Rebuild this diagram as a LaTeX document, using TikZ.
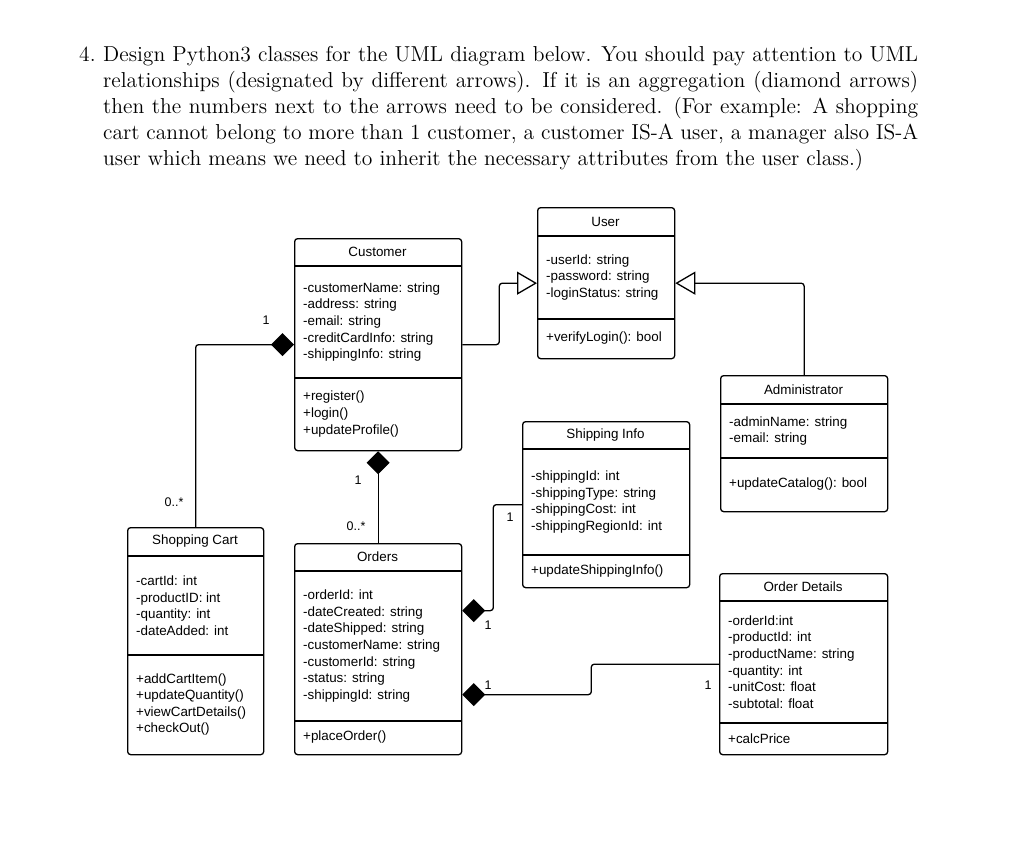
\documentclass[tikz,border=0pt]{standalone}
\usepackage{fontspec}
\setsansfont{Liberation Sans}
\newfontfamily\qfont{lmroman12-regular}[Extension=.otf]
\usetikzlibrary{arrows.meta,calc}
\tikzset{
  classbox/.style={draw, line width=1.3pt, rounded corners=3pt, inner sep=0pt, fill=white},
  classsep/.style={line width=1.3pt},
  classtitle/.style={inner sep=0pt, font=\sffamily\fontsize{13.4}{16.6}\selectfont},
  members/.style={anchor=west, align=left, inner sep=0pt, font=\sffamily\fontsize{13.4}{16.6}\selectfont},
  mult/.style={inner sep=0pt, font=\sffamily\fontsize{12.5}{15}\selectfont},
  qtext/.style={inner sep=0pt, font=\qfont\fontsize{21.6}{26}\selectfont},
  inherit/.style={draw, line width=1.3pt, rounded corners=3pt, -{Triangle[open, length=20pt, width=23pt, line width=1.3pt]}},
  aggr/.style={draw, line width=1.3pt, rounded corners=3pt, {Diamond[length=23pt, width=23pt]}-},
}
\newcommand\umlclass[7]{%
  \node[classbox, minimum width={#4-#2}, minimum height={#5-#3}, anchor=north west] (#1) at (#2,#3) {};
  \draw[classsep] (#2,#6) -- (#4,#6) (#2,#7) -- (#4,#7);
  \coordinate (#1-tc) at ({(#2+#4)/2},{(#3+#6)/2});
  \coordinate (#1-ac) at ({#2+9},{(#6+#7)/2});
  \coordinate (#1-mc) at ({#2+9},{(#7+#5)/2});
}
\newcommand\umltext[4]{%
  \node[classtitle] (#1-title) at (#1-tc) {#2};
  \node[members] (#1-attrs) at (#1-ac) {#3};
  \node[members] (#1-ops) at (#1-mc) {#4};
}
\begin{document}
\begin{tikzpicture}[x=1pt, y=-1pt]
\useasboundingbox[fill=white] (0,0) rectangle (1024,862);

\node[qtext, anchor=base west] (qnum) at (79,61.5) {4.};
\node[qtext, anchor=north west, text width=815pt, align=justify] (question) at (103,46.5)
 {\hyphenpenalty=10000 Design Python3 classes for the UML diagram below. You should pay attention to UML\linebreak
 relationships (designated by different arrows). If it is an aggregation (diamond arrows)\linebreak
 then the numbers next to the arrows need to be considered. (For example: A shopping\linebreak
 cart cannot belong to more than 1 customer, a customer IS-A user, a manager also IS-A\linebreak
 user which means we need to inherit the necessary attributes from the user class.)};

% classes
\umlclass{user}{537}{207}{674}{358}{236}{319}
\umltext{user}{User}{-userId: string\\-password: string\\-loginStatus: string}{+verifyLogin(): bool}

\umlclass{customer}{294}{238}{461}{450}{266}{378}
\umltext{customer}{Customer}{-customerName: string\\-address: string\\-email: string\\-creditCardInfo: string\\-shippingInfo: string}{+register()\\+login()\\+updateProfile()}

\umlclass{admin}{720}{375}{887}{511}{404}{458}
\umltext{admin}{Administrator}{-adminName: string\\-email: string}{+updateCatalog(): bool}

\umlclass{ship}{522}{421}{689}{587}{449}{555}
\umltext{ship}{Shipping Info}{-shippingId: int\\-shippingType: string\\-shippingCost: int\\-shippingRegionId: int}{+updateShippingInfo()}

\umlclass{od}{719}{573}{887}{754}{601}{723}
\umltext{od}{Order Details}{-orderId:int\\-productId: int\\-productName: string\\-quantity: int\\-unitCost: float\\-subtotal: float}{+calcPrice}

\umlclass{cart}{127}{527}{263}{754}{556}{655}
\umltext{cart}{Shopping Cart}{-cartId: int\\-productID: int\\-quantity: int\\-dateAdded: int}{+addCartItem()\\+updateQuantity()\\+viewCartDetails()\\+checkOut()}

\umlclass{orders}{294}{543}{461}{754}{571}{721}
\umltext{orders}{Orders}{-orderId: int\\-dateCreated: string\\-dateShipped: string\\-customerName: string\\-customerId: string\\-status: string\\-shippingId: string}{+placeOrder()}

% inheritance
\draw[inherit] (customer.east) -- ++(37,0) |- (user.west);
\draw[inherit] (admin.north) |- (user.east);

% aggregations
\draw[aggr] (customer.west) -| (cart.north);
\draw[aggr] (customer.south) -- (orders.north);
\draw[aggr] ([yshift=38.5pt]orders.east) -- ++(31,0) |- (ship.west);
\draw[aggr] ([yshift=-45.5pt]orders.east) -- ++(129,0) |- (od.west);

% multiplicities
\node[mult] (m1) at (266,320) {1};
\node[mult] (m2) at (174,502) {0..*};
\node[mult] (m3) at (358,480) {1};
\node[mult] (m4) at (356,526) {0..*};
\node[mult] (m5) at (510,517) {1};
\node[mult] (m6) at (488,625) {1};
\node[mult] (m7) at (488,685) {1};
\node[mult] (m8) at (708,685) {1};
\end{tikzpicture}
\end{document}
